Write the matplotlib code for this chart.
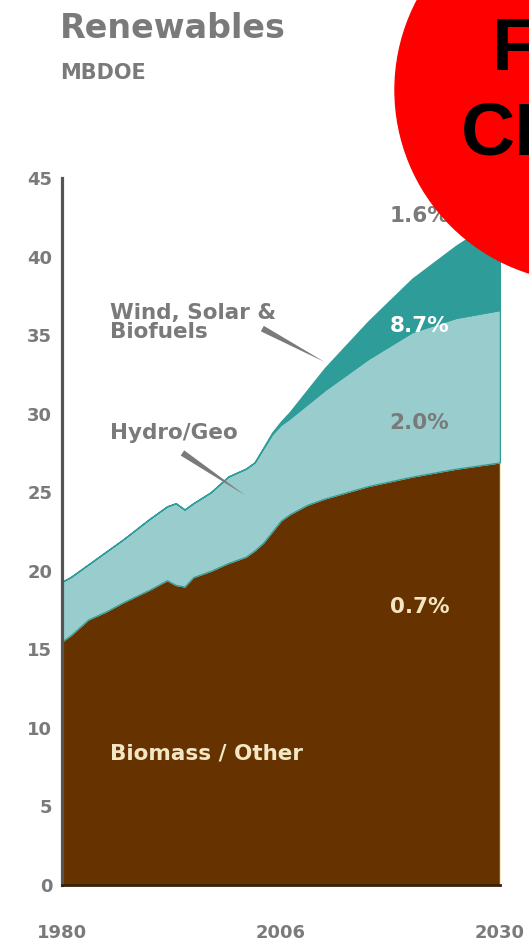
import matplotlib
import matplotlib.pyplot as plt
from matplotlib.patches import Ellipse

matplotlib.use("Agg")

# data (MBDOE)
years = [1980, 1981, 1983, 1985, 1987, 1990, 1992, 1993, 1994, 1995, 1997, 1999,
         2001, 2002, 2003, 2004, 2005, 2006, 2008, 2010, 2015, 2020, 2025, 2030]
biomass = [15.5, 15.9, 16.9, 17.4, 18.0, 18.8, 19.4, 19.1, 19.0, 19.6, 20.0, 20.5,
           20.9, 21.3, 21.8, 22.5, 23.2, 23.6, 24.2, 24.6, 25.4, 26.0, 26.5, 26.9]
hydro = [3.8, 3.7, 3.5, 3.8, 4.0, 4.5, 4.7, 5.2, 4.9, 4.7, 5.0, 5.5,
         5.6, 5.6, 6.0, 6.2, 6.1, 6.1, 6.4, 6.9, 8.1, 9.2, 9.6, 9.7]
wind = [0, 0, 0, 0, 0, 0, 0, 0, 0, 0, 0, 0,
        0, 0, 0.05, 0.1, 0.2, 0.4, 0.9, 1.4, 2.4, 3.4, 4.6, 5.9]

yticks = [0, 5, 10, 15, 20, 25, 30, 35, 40, 45]
xticks = [1980, 2005, 2030]
xticklabels = ["1980", "2006", "2030"]

BROWN = "#663300"
LIGHT = "#99CCCC"
TEAL = "#2E9C98"
GRAY = "#7A7A7A"
CREAM = "#F2E6C4"

plt.rcParams["font.family"] = ["DejaVu Sans"]

fig = plt.figure(figsize=(5.29, 9.42), dpi=100)
ax = fig.add_axes([0.117, 0.0605, 0.828, 0.7505])

polys = ax.stackplot(years, biomass, hydro, wind,
                     colors=[BROWN, LIGHT, TEAL], linewidth=0.9)
polys[0].set_edgecolor(CREAM)
polys[1].set_edgecolor(TEAL)
polys[2].set_edgecolor(TEAL)

ax.set_xlim(1980, 2030)
ax.set_ylim(0, 45)
ax.set_yticks(yticks)
ax.set_xticks(xticks)
ax.set_xticklabels(xticklabels)
ax.tick_params(axis="y", length=0, pad=7, labelsize=13, labelcolor=GRAY)
ax.tick_params(axis="x", length=0, pad=28, labelsize=13, labelcolor=GRAY)
for lab in ax.get_xticklabels() + ax.get_yticklabels():
    lab.set_fontweight("bold")

for side in ["top", "right"]:
    ax.spines[side].set_visible(False)
ax.spines["left"].set_color("#555555")
ax.spines["left"].set_linewidth(2.3)
ax.spines["bottom"].set_color("#3A1E05")
ax.spines["bottom"].set_linewidth(2)

# title
fig.text(0.113, 0.970, "Renewables", fontsize=24, fontweight="bold",
         color=GRAY, va="center")
fig.text(0.113, 0.9225, "MBDOE", fontsize=15, fontweight="bold",
         color=GRAY, va="center")

# series labels
ax.text(1985.5, 35.8, "Wind, Solar &\nBiofuels", fontsize=15.5,
        fontweight="bold", color=GRAY, va="center", linespacing=0.95)
ax.annotate("", xy=(2010.3, 33.2), xytext=(2002.6, 35.5),
            arrowprops=dict(arrowstyle="wedge,tail_width=0.45", color=GRAY, lw=0))
ax.text(1985.5, 28.8, "Hydro/Geo", fontsize=15.5, fontweight="bold",
        color=GRAY, va="center")
ax.annotate("", xy=(2001.2, 24.7), xytext=(1993.5, 27.6),
            arrowprops=dict(arrowstyle="wedge,tail_width=0.45", color=GRAY, lw=0))
ax.text(1985.5, 8.4, "Biomass / Other", fontsize=15.5, fontweight="bold",
        color=CREAM, va="center")

# growth rates
ax.text(2017.4, 42.6, "1.6%", fontsize=15.5, fontweight="bold", color=GRAY, va="center")
ax.text(2017.4, 35.6, "8.7%", fontsize=15.5, fontweight="bold", color="white", va="center")
ax.text(2017.4, 29.4, "2.0%", fontsize=15.5, fontweight="bold", color=GRAY, va="center")
ax.text(2017.4, 17.7, "0.7%", fontsize=15.5, fontweight="bold", color=CREAM, va="center")

# red stamp in the corner, cut by the right edge as in the reference
fig.patches.append(Ellipse((587 / 529, 1 - 90 / 942), 384 / 529, 384 / 942,
                           transform=fig.transFigure, color="#FF0000", zorder=10))
fig.text(592 / 529, 1 - 50 / 942, "FAKE", fontsize=54, fontweight="bold",
         family=["Liberation Sans"], color="black", ha="center", va="center", zorder=11)
fig.text(592 / 529, 1 - 135 / 942, "CHART", fontsize=54, fontweight="bold",
         family=["Liberation Sans"], color="black", ha="center", va="center", zorder=11)

fig.savefig("out.png", dpi=100)
